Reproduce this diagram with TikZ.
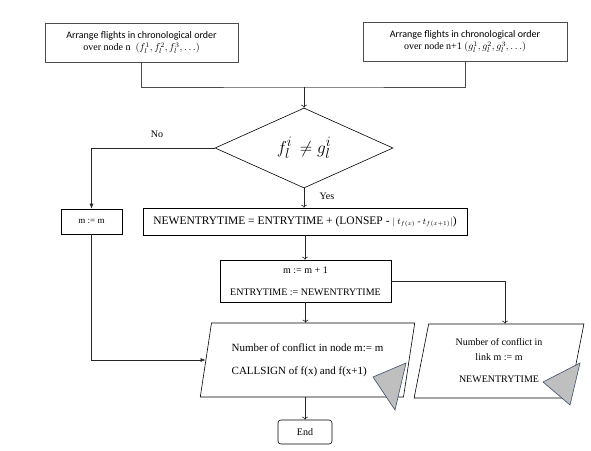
\documentclass[tikz,border=0pt]{standalone}
\usepackage{fontspec}
\setmainfont{Liberation Serif}
\newfontfamily\calfont{Carlito}
\usetikzlibrary{arrows.meta,shapes.geometric}
\definecolor{keil}{RGB}{60,78,108}

\begin{document}
\begin{tikzpicture}[x=1pt,y=-1pt,>={To[length=3pt,width=6pt]},line width=0.6pt,
	box/.style={draw,rectangle,inner sep=0pt,align=center},
	para/.style={draw,trapezium,trapezium stretches=true,inner sep=0pt},
	pfeil/.style={->,black!85},
	voll/.style={-{Latex[length=5pt,width=4pt]},black!85}]

\useasboundingbox (0,0) rectangle (591,450);

\node[box,draw=black!70,minimum width=193pt,minimum height=39pt,
	font=\fontsize{10}{12.5}\selectfont] (ordn) at (141.5,42.5)
	{{\calfont Arrange flights in chronological order}\\ over node n \ $(f_l^1, f_l^2, f_l^3, \ldots)$};
\node[box,draw=black!70,minimum width=204pt,minimum height=39pt,
	font=\fontsize{10}{12.5}\selectfont] (ordm) at (465,41.5)
	{{\calfont Arrange flights in chronological order}\\ over node n+1 $(g_l^1, g_l^2, g_l^3, \ldots)$};
\coordinate (mitte) at (304,87);
\draw[black!70] (ordn.south) |- (mitte) -| (ordm.south);

\node[draw,diamond,minimum width=178pt,minimum height=80pt,inner sep=0pt,
	font=\fontsize{19}{19}\selectfont] (vgl) at (304,148) {$f_l^i \, \neq g_l^i$};
\draw[pfeil] (mitte) -- (vgl.north);

\node[box,minimum width=61pt,minimum height=25pt,font=\fontsize{9}{10}\selectfont] (mm) at (91.5,221.5) {m := m};
\node[box,minimum width=324pt,minimum height=27pt,font=\fontsize{11.5}{13}\selectfont] (neu) at (305,221.5)
	{NEWENTRYTIME = ENTRYTIME + (LONSEP - {\small$|$ $t_{f(x)}$ - $t_{f(x+1)}$$|$})};
\node[box,minimum width=171pt,minimum height=42pt,font=\fontsize{10}{22}\selectfont] (mplus) at (305.5,281)
	{m := m + 1\\ ENTRYTIME := NEWENTRYTIME};

\node[font=\fontsize{10}{12}\selectfont] (nein) at (157,134) {No};
\node[font=\fontsize{10}{12}\selectfont] (ja) at (327,196) {Yes};
\draw[voll] (vgl.west) -| (mm.north);
\draw[pfeil] (vgl.south) -- (vgl.south |- neu.north);
\draw[pfeil] (neu.south) -- (neu.south |- mplus.north);

\node[para,trapezium left angle=75,trapezium right angle=105,minimum width=215pt,minimum height=74pt,
	align=left,font=\fontsize{11}{23}\selectfont] (knoten) at (307.5,360)
	{Number of conflict in node m:= m\\ CALLSIGN of f(x) and f(x+1)};
\node[para,trapezium left angle=78.5,trapezium right angle=101.5,minimum width=170pt,minimum height=74pt,
	align=center,font=\fontsize{10}{15}\selectfont] (link) at (499,361)
	{Number of conflict in\\ link m := m\\[7pt] NEWENTRYTIME};
\node[box,rounded corners=3pt,minimum width=54pt,minimum height=24pt,font=\fontsize{10}{12}\selectfont] (ende) at (305,432) {End};

\draw[pfeil] (mplus.south) -- (mplus.south |- knoten.north);
\draw[pfeil] (mplus.east) -| ([xshift=6pt]link.north);
\draw[voll] (mm.south) |- (knoten);
\draw[pfeil] (ende.north |- knoten.south) -- (ende.north);

\def\keil#1#2#3{
	\filldraw[fill=black!25,draw=keil] #1 -- #2 -- #3 -- cycle;
}
\keil{(373,377)}{(406,363)}{(395,410)}
\keil{(543,382)}{(580,363)}{(570,405)}

\end{tikzpicture}
\end{document}
